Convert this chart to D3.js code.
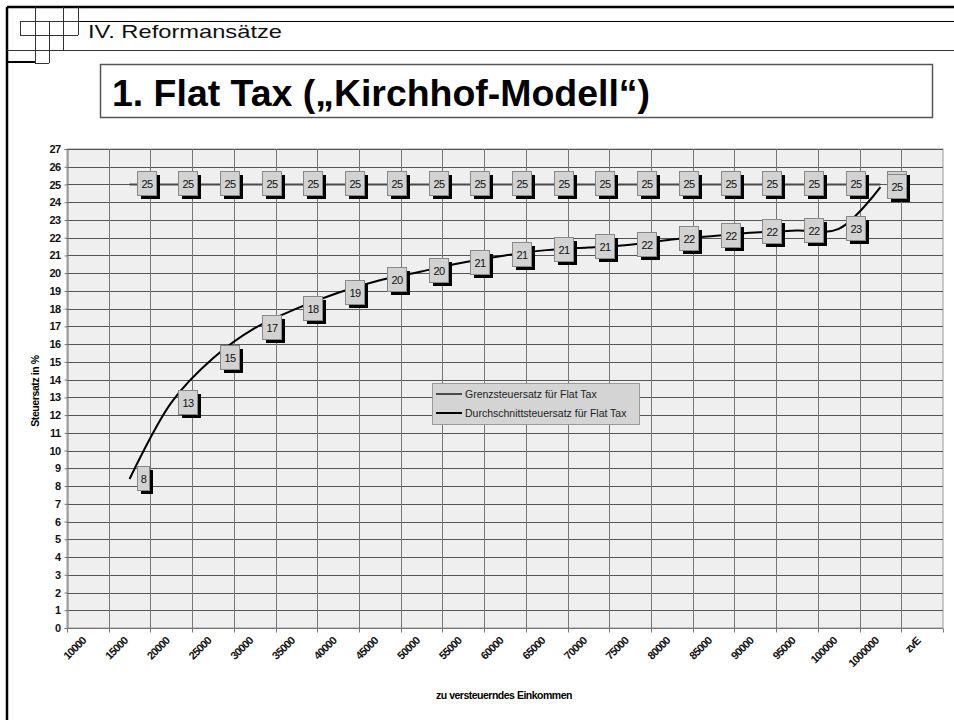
<!DOCTYPE html>
<html>
<head>
<meta charset="utf-8">
<script src="https://cdn.jsdelivr.net/npm/d3@7"></script>
<style>
  body { margin: 0; background: #fff; }
  svg { display: block; font-family: "Liberation Sans", Arial, sans-serif; }
</style>
</head>
<body>
<svg id="chart" width="954" height="720"></svg>
<script>
// DATA
var categories = ["10000", "15000", "20000", "25000", "30000", "35000", "40000",
  "45000", "50000", "55000", "60000", "65000", "70000", "75000", "80000",
  "85000", "90000", "95000", "100000", "1000000", "zvE"];
var grenzsteuersatz = [null, 25, 25, 25, 25, 25, 25, 25, 25, 25, 25, 25, 25,
  25, 25, 25, 25, 25, 25, 25, null];
var durchschnittsteuersatz = [null, 8.4, 12.7, 15.2, 16.9, 18.0, 18.9, 19.6,
  20.1, 20.6, 21.0, 21.3, 21.45, 21.6, 21.9, 22.1, 22.3, 22.4, 22.5, 24.85, null];
var yTicks = d3.range(0, 28);
var seriesNames = ["Grenzsteuersatz für Flat Tax", "Durchschnittsteuersatz für Flat Tax"];

var svg = d3.select("#chart");

// SLIDE FRAME
var frame = svg.append("g").attr("class", "frame");
function ln(x1, y1, x2, y2, w, c) {
  frame.append("line")
    .attr("x1", x1).attr("y1", y1).attr("x2", x2).attr("y2", y2)
    .attr("stroke", c || "#000").attr("stroke-width", w || 1);
}
ln(7, 7, 954, 7, 2.5);
ln(7, 7, 7, 720, 2.5);
ln(78, 21.5, 954, 21.5, 1);
ln(7, 50.5, 954, 50.5, 1, "#333");
// little squares
ln(20, 21.5, 78, 21.5, 1, "#333");
ln(20, 35.5, 78, 35.5, 1, "#333");
ln(20.5, 21, 20.5, 35, 1, "#333");
ln(35.5, 7, 35.5, 63, 1, "#333");
ln(49.5, 21, 49.5, 63, 1, "#333");
ln(63.5, 7, 63.5, 50, 1, "#333");
ln(78.5, 7, 78.5, 35, 1, "#333");
ln(35, 63.5, 49, 63.5, 1, "#333");
ln(7, 62, 35, 62, 2);

frame.append("text")
  .attr("x", 88).attr("y", 38)
  .style("font-size", "18.5px")
  .attr("textLength", 194).attr("lengthAdjust", "spacingAndGlyphs")
  .attr("fill", "#111")
  .text("IV. Reformansätze");

frame.append("rect")
  .attr("x", 100.5).attr("y", 64.5).attr("width", 832).attr("height", 53)
  .attr("fill", "#fff").attr("stroke", "#555").attr("stroke-width", 1.5);
frame.append("text")
  .attr("x", 112).attr("y", 106)
  .style("font-size", "36px").style("font-weight", "bold")
  .attr("textLength", 538).attr("lengthAdjust", "spacingAndGlyphs")
  .text("1. Flat Tax (\u201EKirchhof-Modell\u201C)");

// CHART
var margin = {left: 67, top: 149, right: 943, bottom: 628};

var x = d3.scaleBand()
  .domain(categories)
  .range([margin.left, margin.right]);
var y = d3.scaleLinear()
  .domain([0, 27])
  .range([margin.bottom, margin.top]);

var plot = svg.append("g").attr("class", "plot");
plot.append("rect")
  .attr("x", margin.left).attr("y", margin.top)
  .attr("width", margin.right - margin.left)
  .attr("height", margin.bottom - margin.top)
  .attr("fill", "#efefef").attr("stroke", "#999");

// gridlines
plot.selectAll(".hgrid").data(yTicks.slice(1))
  .enter().append("line")
  .attr("class", "hgrid")
  .attr("x1", margin.left).attr("x2", margin.right)
  .attr("y1", function(d) { return Math.round(y(d)) + 0.5; })
  .attr("y2", function(d) { return Math.round(y(d)) + 0.5; })
  .attr("stroke", "#555");
plot.selectAll(".vgrid").data(categories.slice(1))
  .enter().append("line")
  .attr("class", "vgrid")
  .attr("x1", function(d) { return Math.round(x(d)) + 0.5; })
  .attr("x2", function(d) { return Math.round(x(d)) + 0.5; })
  .attr("y1", margin.top).attr("y2", margin.bottom)
  .attr("stroke", "#777");

// AXES
var yAxis = svg.append("g")
  .attr("transform", "translate(" + (margin.left + 0.5) + ",0)")
  .call(d3.axisLeft(y).tickValues(yTicks).tickSize(3).tickPadding(4));
yAxis.select(".domain").attr("stroke", "#777");
yAxis.selectAll(".tick line").attr("stroke", "#777");
yAxis.selectAll("text")
  .style("font-size", "11px").style("font-weight", "bold")
  .style("font-family", "'Liberation Sans', Arial, sans-serif")
  .attr("fill", "#111").attr("letter-spacing", "-0.6");

var xAxis = svg.append("g")
  .attr("transform", "translate(0," + (margin.bottom + 0.5) + ")");
xAxis.append("line")
  .attr("x1", margin.left).attr("x2", margin.right)
  .attr("stroke", "#777");
xAxis.selectAll(".xtick").data(categories.concat(["_end"]))
  .enter().append("line")
  .attr("class", "xtick")
  .attr("x1", function(d, i) { return Math.round(margin.left + i * x.bandwidth()) + 0.5; })
  .attr("x2", function(d, i) { return Math.round(margin.left + i * x.bandwidth()) + 0.5; })
  .attr("y1", 0).attr("y2", 4)
  .attr("stroke", "#777");
xAxis.selectAll(".xlabel").data(categories)
  .enter().append("text")
  .attr("class", "xlabel")
  .attr("text-anchor", "end")
  .attr("transform", function(d) {
    return "translate(" + (x(d) + x.bandwidth() / 2 - 1) + ",13) rotate(-45)";
  })
  .style("font-size", "11px").style("font-weight", "bold")
  .attr("letter-spacing", "-0.8")
  .attr("fill", "#111")
  .text(function(d) { return d; });

svg.append("text")
  .attr("x", 504).attr("y", 699)
  .attr("text-anchor", "middle")
  .style("font-size", "10.5px").style("font-weight", "bold")
  .attr("letter-spacing", "-0.5")
  .text("zu versteuerndes Einkommen");

svg.append("text")
  .attr("transform", "translate(39,391) rotate(-90)")
  .attr("text-anchor", "middle")
  .style("font-size", "10.5px").style("font-weight", "bold")
  .attr("letter-spacing", "-0.4")
  .text("Steuersatz in %");

// LINES
function cx(i) { return x(categories[i]) + x.bandwidth() / 2; }
var lineGen = d3.line()
  .defined(function(d) { return d != null; })
  .x(function(d, i) { return cx(i); })
  .y(function(d) { return y(d); });

plot.append("path")
  .datum(grenzsteuersatz)
  .attr("fill", "none").attr("stroke", "#4a4a4a").attr("stroke-width", 2)
  .attr("d", lineGen);
plot.append("path")
  .datum(durchschnittsteuersatz)
  .attr("fill", "none").attr("stroke", "#000").attr("stroke-width", 2)
  .attr("d", lineGen.curve(d3.curveCatmullRom.alpha(0.5)));

// DATA LABELS
// where both series carry the same rounded label at one point, the boxes
// stack and only the upper one shows its number
function labelText(v) { return String(Math.round(v)); }
function drawLabels(values, cls, other) {
  var pts = [];
  values.forEach(function(v, i) { if (v != null) pts.push({i: i, v: v}); });
  var g = plot.selectAll("." + cls).data(pts)
    .enter().append("g")
    .attr("class", cls)
    .attr("transform", function(d) {
      return "translate(" + Math.round(cx(d.i) + 7) + "," + Math.round(y(d.v)) + ")";
    });
  g.each(function(d) {
    var txt = labelText(d.v);
    var w = txt.length > 1 ? 19 : 12;
    var sel = d3.select(this);
    sel.append("rect")
      .attr("x", 4).attr("y", -9).attr("width", w).attr("height", 24)
      .attr("fill", "#000");
    sel.append("rect")
      .attr("x", 0.5).attr("y", -12.5).attr("width", w).attr("height", 24)
      .attr("fill", "#d2d2d2").attr("stroke", "#888");
    var hidden = other && other[d.i] != null && labelText(other[d.i]) === txt;
    if (!hidden) {
      sel.append("text")
        .attr("x", w / 2 + 0.5).attr("y", 4)
        .attr("text-anchor", "middle")
        .style("font-size", "11px")
        .attr("letter-spacing", "-0.5")
        .attr("fill", "#111")
        .text(txt);
    }
  });
}
drawLabels(grenzsteuersatz, "lblG", durchschnittsteuersatz);
drawLabels(durchschnittsteuersatz, "lblD");

// LEGEND
var legend = svg.append("g").attr("transform", "translate(432,383)");
legend.append("rect")
  .attr("x", 0.5).attr("y", 0.5).attr("width", 207).attr("height", 41)
  .attr("fill", "#d4d4d4").attr("stroke", "#999");
var legColors = ["#4a4a4a", "#000"];
seriesNames.forEach(function(name, i) {
  var yy = 11 + i * 19;
  legend.append("line")
    .attr("x1", 4).attr("x2", 30).attr("y1", yy).attr("y2", yy)
    .attr("stroke", legColors[i]).attr("stroke-width", 2);
  legend.append("text")
    .attr("x", 33).attr("y", yy + 4)
    .style("font-size", "10.5px")
    .attr("fill", "#222")
    .text(name);
});
</script>
</body>
</html>
